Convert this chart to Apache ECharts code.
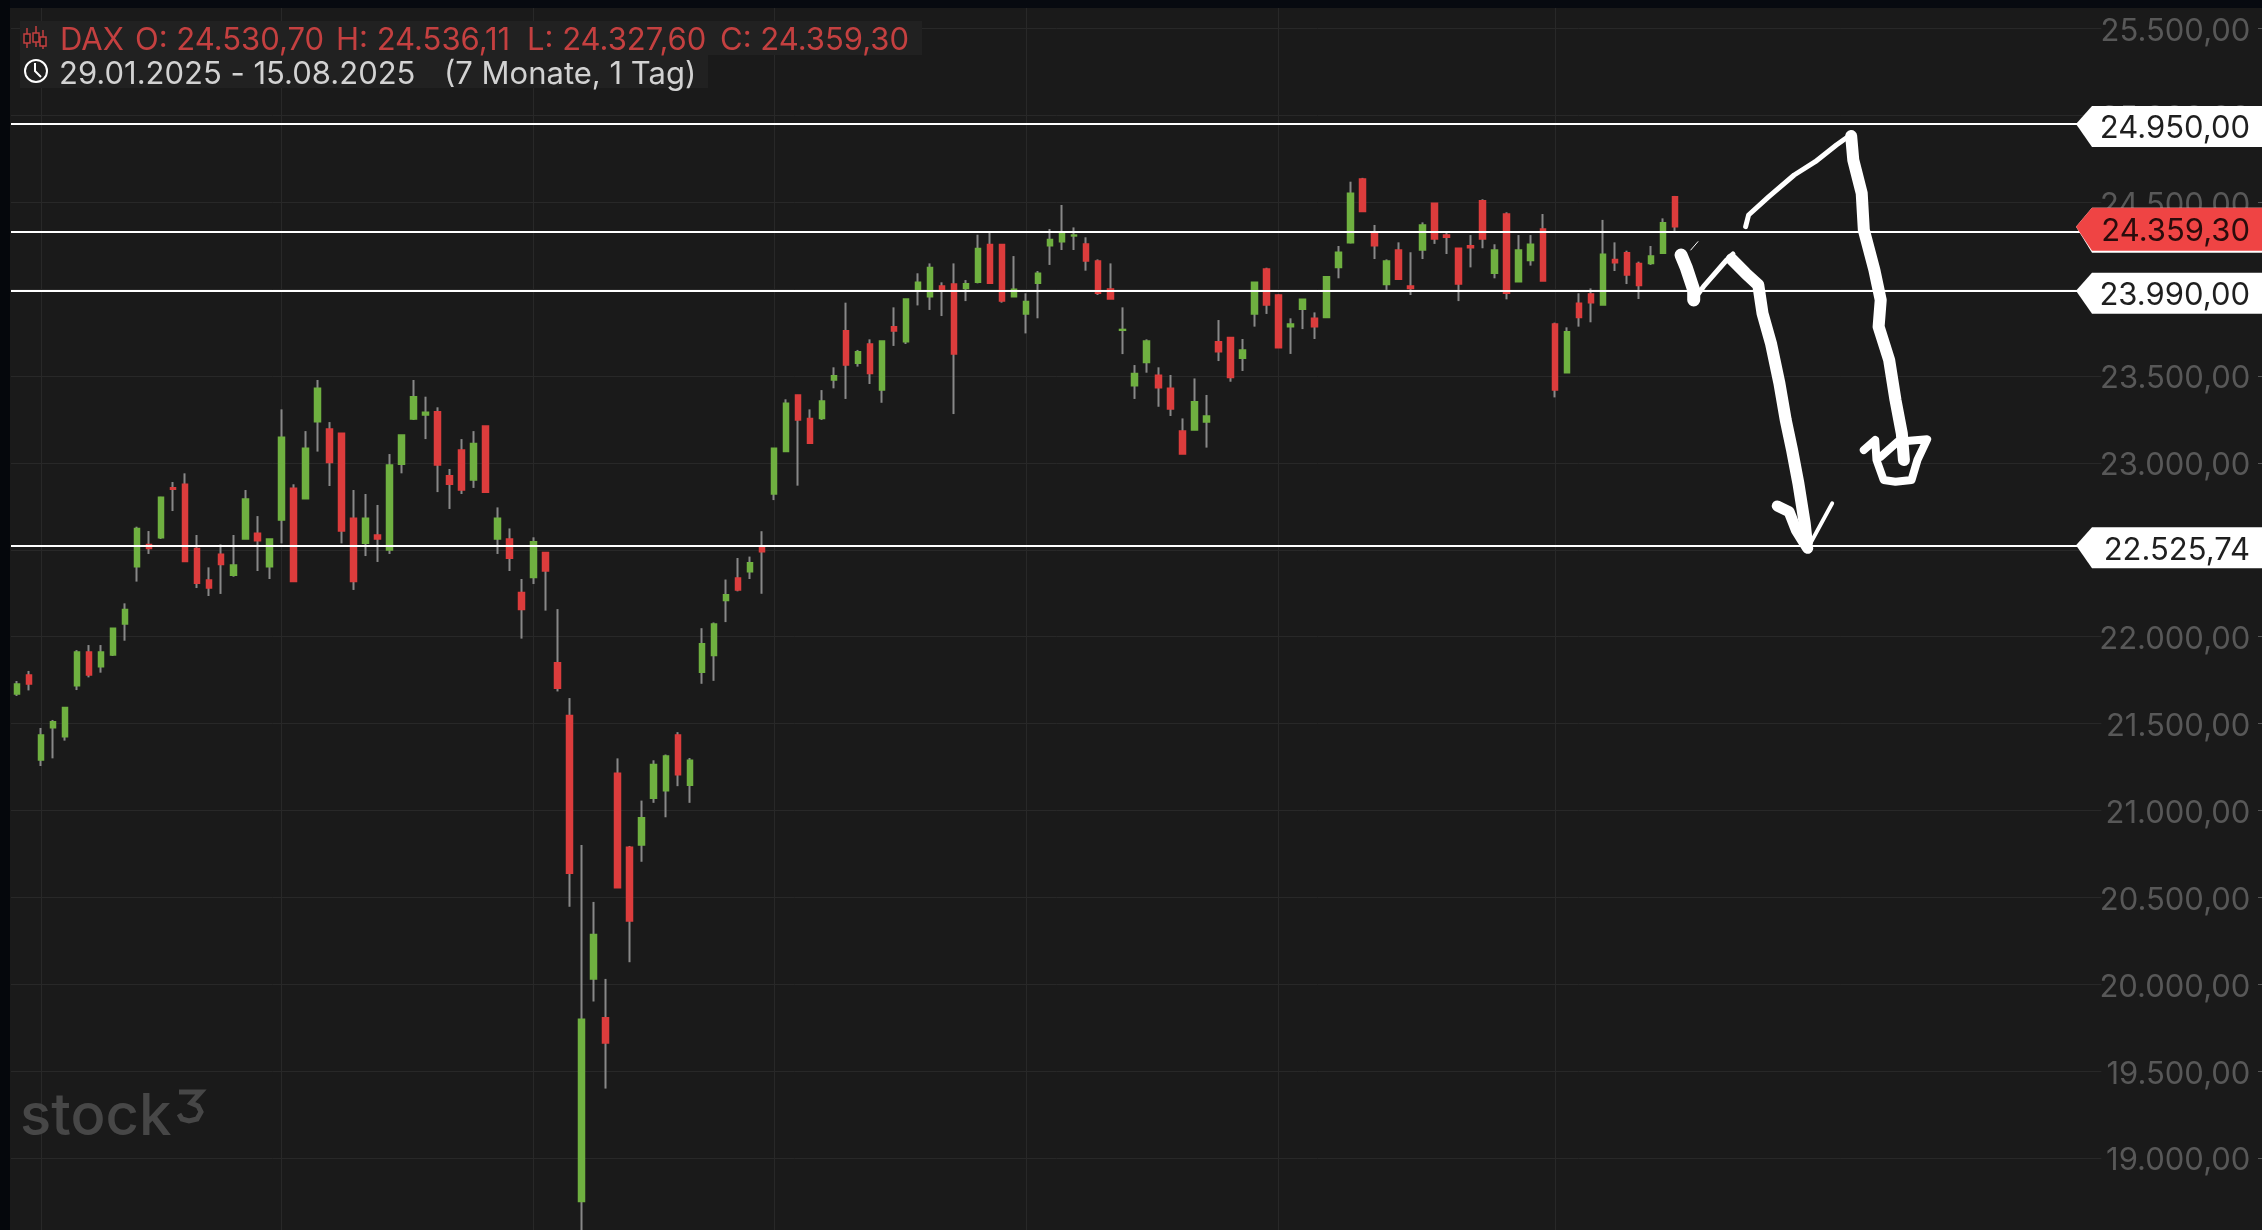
<!DOCTYPE html>
<html><head><meta charset="utf-8">
<style>html,body{margin:0;padding:0;background:#1a1a1a}#c{width:2262px;height:1230px}</style>
<script src="https://cdn.jsdelivr.net/npm/echarts@6/dist/echarts.min.js"></script>
</head><body><div id="c"></div>
<script>
const opens=[21670,21780,21290,21476,21425,21718,21912,21827,21895,22073,22403,22531,22570,22857,22877,22508,22326,22474,22353,22562,22595,22403,22671,22854,22794,23237,23195,23170,22681,22537,22585,22499,22992,23252,23276,23295,22926,23074,22902,23212,22562,22562,22255,22341,22485,21850,21547,18751,20031,19808,21214,20788,20801,21071,21113,21435,21146,21795,21892,22208,22338,22373,22522,22821,23065,23391,23256,23256,23477,23761,23573,23684,23419,23784,23697,23995,23956,24018,24029,24004,24039,24257,24257,23956,23857,24033,24250,24273,24306,24259,24162,24000,23763,23444,23577,23504,23429,23183,23189,23235,23697,23722,23602,23857,24116,23966,23784,23884,23832,23836,24125,24267,24634,24321,24027,24225,24018,24225,24494,24311,24235,24250,24509,24091,24432,24043,24164,24346,23799,23519,23918,23972,23909,24171,24209,24148,24148,24206,24530.70];
const closes=[21728,21728,21434,21511,21593,21912,21780,21912,22048,22157,22623,22508,22802,22848,22432,22307,22280,22416,22412,22792,22552,22562,23147,22317,23084,23429,23003,22608,22317,22681,22562,22988,23160,23381,23291,22988,22877,22844,23112,22831,22681,22451,22157,22547,22378,21704,20639,19799,20287,19662,20556,20364,20958,21264,21313,21206,21289,21960,22073,22241,22269,22426,22489,23084,23343,23247,23113,23356,23502,23563,23640,23515,23701,23759,23943,24039,24125,23995,23627,24031,24234,24033,23931,23999,23928,24091,24286,24321,24311,24162,23976,23943,23768,23515,23701,23433,23310,23051,23352,23270,23640,23492,23650,24039,23909,23663,23799,23941,23784,24071,24212,24551,24446,24250,24162,24056,24004,24369,24288,24298,24029,24238,24288,24225,23976,24225,24258,24047,23419,23755,23836,23922,24200,24152,24081,24020,24190,24382,24359.30];
const lows=[21659,21691,21256,21300,21402,21693,21766,21793,21889,21977,22317,22476,22562,22723,22432,22280,22234,22246,22345,22562,22378,22332,22537,22317,22794,23065,22867,22537,22269,22464,22430,22476,22940,23247,23137,22832,22735,22821,22856,22831,22476,22378,21989,22303,22150,21685,20446,18560,19901,19400,20556,20127,20705,21044,20961,21140,21044,21729,21746,22084,22261,22332,22247,22786,23065,22869,23113,23247,23429,23368,23554,23454,23346,23673,23684,23906,23880,23845,23281,23931,24033,24033,23922,23956,23745,23832,24139,24225,24225,24106,23966,23943,23626,23368,23519,23323,23270,23051,23189,23088,23586,23467,23529,23784,23857,23663,23627,23770,23713,23836,24062,24263,24446,24173,23995,24056,23966,24173,24260,24202,23931,24125,24235,24062,23941,24043,24135,24047,23377,23519,23784,23809,23909,24104,24029,23943,24139,24206,24327.60];
const highs=[21745,21803,21475,21521,21593,21923,21952,21952,22050,22192,22633,22608,22805,22890,22940,22585,22399,22531,22585,22844,22694,22562,23308,22877,23183,23477,23235,23170,22844,22821,22758,23051,23160,23477,23381,23320,22965,23137,23183,23212,22744,22623,22332,22572,22485,22159,21647,20801,20474,20031,21300,20796,21057,21289,21322,21451,21302,22049,22082,22329,22453,22461,22607,23084,23366,23391,23308,23419,23550,23922,23650,23711,23701,23895,23943,24091,24148,24039,24148,24052,24313,24325,24259,24190,23976,24104,24346,24484,24355,24298,24171,24148,23895,23563,23711,23550,23506,23256,23486,23391,23822,23722,23713,24039,24123,23970,23832,23943,23866,24071,24248,24618,24640,24369,24171,24269,24212,24384,24494,24330,24235,24311,24517,24258,24442,24311,24311,24432,23807,23780,23976,24004,24398,24269,24221,24158,24248,24407,24536.11];
const levelValues=[24950,24330,23990,22525.74];
const tagValues=[24950,24359.30,23990,22525.74];
const tagLabels=['24.950,00','24.359,30','23.990,00','22.525,74'];
const monthEndIndex=[2,22,43,63,84,105,128];
const emptySlots=35;
const headerPieces=[['DAX',60],['O: 24.530,70',135],['H: 24.536,11',336],['L: 24.327,60',527],['C: 24.359,30',720]];
const rangePieces=[['29.01.2025 - 15.08.2025',59],['(7 Monate, 1 Tag)',444]];

const categories=[];
for(let i=0;i<opens.length+emptySlots;i++)categories.push(String(i));
const wicks=opens.map((o,i)=>[o,closes[i],lows[i],highs[i]]);
const bodies=opens.map((o,i)=>[o,closes[i],Math.min(o,closes[i]),Math.max(o,closes[i])]);
const FONT='Inter, "Noto Sans", sans-serif';
const fmt=v=>v.toLocaleString('de-DE',{minimumFractionDigits:2,maximumFractionDigits:2});

const sk=p=>[1600+p[0]/2.369,100+p[1]/3];
const strokes=[
 [[[192,465],[205,505],[222,570],[222,600]],13],
 [[[222,600],[245,560],[300,480],[315,462]],5],
 [[[312,478],[345,520],[375,555],[385,640],[405,730],[425,850],[440,960],[455,1050],[470,1150],[485,1270],[490,1330]],12],
 [[[420,1218],[448,1235],[465,1290],[492,1345]],11],
 [[[492,1345],[520,1280],[550,1210]],4],
 [[[345,380],[352,345],[400,290],[460,225],[510,185],[560,135],[590,108]],5],
 [[[595,108],[600,180],[620,280],[625,390],[650,510],[665,600],[660,680],[685,780],[700,900],[715,1000],[720,1080]],12],
 [[[625,1050],[652,1020],[655,1080],[672,1140],[700,1145],[738,1140],[752,1080],[775,1018],[705,1025],[665,1070]],8],
 [[[215,450],[232,425]],1]
];
const g=[];
g.push({type:'rect',z:1,shape:{x:20,y:21,width:902,height:34},style:{fill:'#212121'}});
g.push({type:'rect',z:1,shape:{x:20,y:55,width:688,height:33},style:{fill:'#212121'}});
g.push({type:'rect',z:90,shape:{x:0,y:0,width:2262,height:8},style:{fill:'#070a10'}});
g.push({type:'rect',z:90,shape:{x:0,y:0,width:10,height:1230},style:{fill:'#05070c'}});
headerPieces.forEach(p=>g.push({type:'text',z:95,style:{text:p[0],x:p[1],y:41,fill:'#c44040',font:'400 31px '+FONT,verticalAlign:'middle'}}));
rangePieces.forEach(p=>g.push({type:'text',z:95,style:{text:p[0],x:p[1],y:75,fill:'#d2d2d2',font:'400 31px '+FONT,verticalAlign:'middle'}}));
[[27,28,48],[36,26,47],[43,30,49]].forEach(c=>{
 g.push({type:'line',z:95,shape:{x1:c[0],y1:c[1],x2:c[0],y2:c[2]},style:{stroke:'#c44040',lineWidth:1.5}});
});
[[24,34,6,9],[33,33,6,9],[40,37,6,9]].forEach(r=>g.push({type:'rect',z:95,shape:{x:r[0],y:r[1],width:r[2],height:r[3]},style:{fill:'#1a1a1a',stroke:'#c44040',lineWidth:1.5}}));
g.push({type:'circle',z:95,shape:{cx:36,cy:71,r:11},style:{fill:'none',stroke:'#fff',lineWidth:2}});
g.push({type:'polyline',z:95,shape:{points:[[35,63],[35,71],[41,77]]},style:{fill:'none',stroke:'#fff',lineWidth:2}});
g.push({type:'text',z:3,style:{text:'stock',x:20,y:1147,fill:'#474747',font:'500 58px '+FONT,verticalAlign:'bottom'}});
g.push({type:'polyline',z:3,shape:{points:[[179,1092],[201,1092],[191,1103],[198,1106],[201,1112],[197,1119],[189,1121],[182,1119],[179,1114]]},style:{fill:'none',stroke:'#474747',lineWidth:5}});
strokes.forEach(s=>g.push({type:'polyline',z:80,shape:{points:s[0].map(sk)},style:{fill:'none',stroke:'#fff',lineWidth:s[1],lineCap:'round',lineJoin:'round'}}));

const yBase={min:18500,max:26000,interval:500};
const option={
 animation:false,
 backgroundColor:'#1a1a1a',
 grid:{left:11,top:-58.5,width:2090.4,height:1303.5,containLabel:false,outerBoundsMode:'none'},
 xAxis:{type:'category',data:categories,boundaryGap:true,
  axisLine:{show:false},axisTick:{show:false},axisLabel:{show:false},
  splitLine:{show:true,alignWithLabel:true,interval:(i)=>monthEndIndex.includes(i),lineStyle:{color:'#282828',width:1}}},
 yAxis:[
  Object.assign({type:'value',position:'right',scale:false,
   axisLine:{show:false},axisTick:{show:false},
   axisLabel:{show:true,align:'right',verticalAlign:'top',lineHeight:6,margin:149,color:'#585858',fontFamily:FONT,fontSize:31,formatter:fmt},
   splitLine:{show:true,lineStyle:{color:'#282828',width:1}}},yBase),
  Object.assign({type:'value',position:'right',offset:156.6,
   axisLine:{show:false},axisTick:{show:true,length:4,lineStyle:{color:'#565656',width:1}},
   axisLabel:{show:false},splitLine:{show:false}},yBase)
 ],
 series:[
  {name:'DAX Docht',type:'candlestick',barWidth:1,data:wicks,z:2,
   itemStyle:{color:'#888888',color0:'#888888',borderColor:'#888888',borderColor0:'#888888',borderWidth:2}},
  {name:'DAX',type:'candlestick',barWidth:6,data:bodies,z:3,
   itemStyle:{color:'#6fb040',color0:'#dc3c3c',borderColor:'#6fb040',borderColor0:'#dc3c3c',borderWidth:1.5},
   markLine:{silent:true,symbol:'none',animation:false,label:{show:false},
    lineStyle:{color:'#ffffff',width:2,type:'solid'},
    data:levelValues.map(v=>({yAxis:v}))}},
  {name:'Marken',type:'custom',z:6,coordinateSystem:'cartesian2d',clip:false,
   data:tagValues.map((v,i)=>[0,v,i]),
   renderItem:(params,api)=>{
    const y=api.coord([0,api.value(1)])[1];
    const idx=api.value(2);
    const red=idx===1;
    const right=params.coordSys.x+params.coordSys.width;
    const W=api.getWidth();
    const tip=right-25.4, sh=right-9.4;
    const up=red?19:18, dn=red?24:23;
    const children=[];
    if(red)children.push({type:'polygon',shape:{points:[[tip,y],[sh,y-up],[W,y-up],[W,y+dn+2],[sh,y+dn+2]]},style:{fill:'#ffffff'}});
    children.push({type:'polygon',shape:{points:[[tip,y],[sh,y-up],[W,y-up],[W,y+dn],[sh,y+dn]]},style:{fill:red?'#ef4444':'#ffffff'}});
    children.push({type:'text',style:{text:tagLabels[idx],x:W-12,y:y+5,align:'right',verticalAlign:'middle',fill:red?'#2a0c0c':'#1f1f1f',font:'400 31px '+FONT}});
    return {type:'group',children};
   }}
 ],
 graphic:{elements:g}
};
const chart=echarts.init(document.getElementById('c'),null,{renderer:'canvas'});
chart.setOption(option);
</script></body></html>
